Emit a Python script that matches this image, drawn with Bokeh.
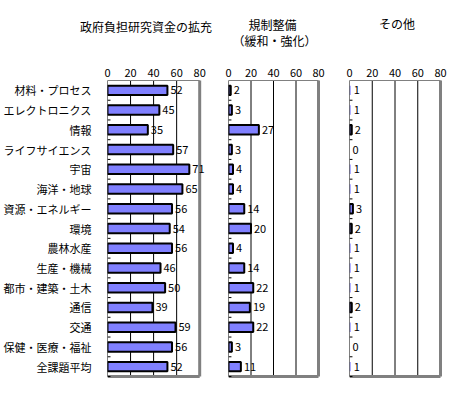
from bokeh.plotting import figure
from bokeh.layouts import row, column
from bokeh.models import (ColumnDataSource, FactorRange, Range1d, FixedTicker)
from bokeh.transform import dodge
from bokeh.core.properties import value
from bokeh.embed import file_html
from bokeh.resources import INLINE

categories = ["材料・プロセス", "エレクトロニクス", "情報", "ライフサイエンス", "宇宙",
              "海洋・地球", "資源・エネルギー", "環境", "農林水産", "生産・機械",
              "都市・建築・土木", "通信", "交通", "保健・医療・福祉", "全課題平均"]
funding = [52, 45, 35, 57, 71, 65, 56, 54, 56, 46, 50, 39, 59, 56, 52]
regulation = [2, 3, 27, 3, 4, 4, 14, 20, 4, 14, 22, 19, 22, 3, 11]
other = [1, 1, 2, 0, 1, 1, 3, 2, 1, 1, 1, 2, 1, 0, 1]
x_ticks = [0, 20, 40, 60, 80]
title_lines = ["政府負担研究資金の拡充", "規制整備", "（緩和・強化）", "その他"]

FONT = "Noto Sans CJK JP"
ROW_PX = 296.0 / len(categories)
PAD_PX = 2
TITLE_H = 48
TOP = 78 - TITLE_H
BOTTOM = 7
H = TOP + 296 + 2 * PAD_PX + BOTTOM

# layout of the title band (pixel positions of the title line centres)
TITLE_X = [145.5, 272, 274, 396.5]
TITLE_Y = [25.5, 23.5, 39.5, 23]


def panel(vals, bl, w80, extra, br, show_cats):
    src = ColumnDataSource(dict(
        cat=categories, v=vals, lab=[str(v) for v in vals],
        la=[1 if v > 1 else 0 for v in vals]))
    xmax = x_ticks[-1] * (w80 + extra) / w80
    width = bl + w80 + extra + br
    p = figure(width=width, height=H,
               y_range=FactorRange(factors=categories[::-1],
                                   range_padding=PAD_PX / ROW_PX,
                                   range_padding_units="absolute"),
               x_range=Range1d(0, xmax), x_axis_location="above",
               output_backend="svg", toolbar_location=None,
               min_border_left=bl, min_border_right=br,
               min_border_top=TOP, min_border_bottom=BOTTOM)
    p.outline_line_color = None
    p.background_fill_color = "white"
    p.border_fill_color = "white"
    p.xgrid.grid_line_color = None
    p.ygrid.grid_line_color = None

    xa = p.xaxis[0]
    xa.ticker = FixedTicker(ticks=x_ticks)
    xa.axis_line_color = None
    xa.major_tick_line_color = None
    xa.minor_tick_line_color = None
    xa.major_label_standoff = -4
    xa.major_label_text_font = FONT
    xa.major_label_text_font_size = "11px"
    xa.major_label_text_color = "black"

    ya = p.yaxis[0]
    if show_cats:
        ya.axis_line_color = None
        ya.major_tick_line_color = None
        ya.minor_tick_line_color = None
        ya.major_label_text_font = FONT
        ya.major_label_text_color = "black"
        ya.major_label_text_font_size = "11px"
        ya.major_label_standoff = 10
    else:
        ya.visible = False

    top_cat = categories[0]
    bot_cat = categories[-1]
    inner = x_ticks[1:-1]
    gsrc = ColumnDataSource(dict(x=inner, top=[top_cat] * len(inner), bot=[bot_cat] * len(inner)))
    p.segment(x0="x", x1="x", y0=dodge("bot", -0.5, range=p.y_range),
              y1=dodge("top", 0.5, range=p.y_range), source=gsrc,
              line_color="black", line_width=1)
    fsrc = ColumnDataSource(dict(x0=[x_ticks[0]], x1=[x_ticks[-1]], top=[top_cat], bot=[bot_cat]))
    p.segment(x0="x0", x1="x1", y0=dodge("top", 0.5, range=p.y_range),
              y1=dodge("top", 0.5, range=p.y_range), source=fsrc,
              line_color="#808080", line_width=1)
    p.segment(x0="x1", x1="x1", y0=dodge("bot", -0.5, range=p.y_range),
              y1=dodge("top", 0.5, range=p.y_range), source=fsrc,
              line_color="#808080", line_width=3)
    p.segment(x0="x0", x1="x1", y0=dodge("bot", -0.5, range=p.y_range),
              y1=dodge("bot", -0.5, range=p.y_range), source=fsrc,
              line_color="#808080", line_width=3)

    p.hbar(y="cat", left=0, right="v", height=0.48, source=src,
           fill_color="#8080FF", line_color="black", line_width=2,
           line_alpha="la")
    p.text(x="v", y="cat", text="lab", source=src, x_offset=3,
           text_align="left", text_baseline="middle",
           text_font=value(FONT), text_font_size="11px", text_color="black")

    p.segment(x0="x0", x1="x0", y0=dodge("bot", -0.5, range=p.y_range),
              y1=dodge("top", 0.5, range=p.y_range), source=fsrc,
              line_color="black", line_width=1)
    p.segment(x0=0, x1=2.6, y0=dodge("cat", -0.5, range=p.y_range),
              y1=dodge("cat", -0.5, range=p.y_range), source=src,
              line_color="black", line_width=1)
    return p


p1 = panel(funding, 105, 94, 10, 3, True)
p2 = panel(regulation, 16, 90, 8, 2, False)
p3 = panel(other, 21, 91, 8, 3, False)

total_w = p1.width + p2.width + p3.width
tf = figure(width=total_w, height=TITLE_H, x_range=Range1d(0, total_w),
            y_range=Range1d(TITLE_H, 0), output_backend="svg",
            toolbar_location=None, min_border=0)
tf.axis.visible = False
tf.grid.visible = False
tf.outline_line_color = None
tf.background_fill_color = "white"
tf.border_fill_color = "white"
tsrc = ColumnDataSource(dict(x=TITLE_X, y=TITLE_Y, t=title_lines))
tf.text(x="x", y="y", text="t", source=tsrc, text_align="center",
        text_baseline="middle", text_font=value(FONT), text_font_size="12px",
        text_color="black")

layout = column(tf, row(p1, p2, p3, spacing=0), spacing=0)
open("out.html", "w").write(file_html(layout, INLINE))
